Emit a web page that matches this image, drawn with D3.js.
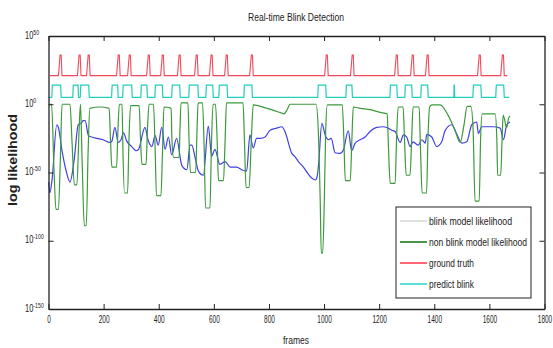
<!DOCTYPE html>
<html>
<head>
<meta charset="utf-8">
<script src="https://cdn.jsdelivr.net/npm/d3@7"></script>
<style>
  body { margin: 0; background: #fff; }
  svg text { font-family: "Liberation Sans", Arial, sans-serif; fill: #222; }
</style>
</head>
<body>
<svg id="chart" width="553" height="348"></svg>
<script>
// x ticks (frames) and y ticks (powers of ten)
const xTicks = [0, 200, 400, 600, 800, 1000, 1200, 1400, 1600, 1800];
const yTickExps = [50, 0, -50, -100, -150];

const legendNames = ['blink model likelihood', 'non blink model likelihood', 'ground truth', 'predict blink'];

// [frame, log10 likelihood]
const blinkModel = [
  [1,-57],[5,-65],[13,-55],[30,-15],[36,-17],[49,-34],[63,-48],[78,-57],[93,-41],[108,-15],
  [118,-14],[126,-12],[133,-12],[145,-23],[157,-24],[176,-25],[198,-26],[223,-28],[230,-27],[241,-17],
  [253,-28],[263,-26],[272,-21],[284,-27],[302,-31],[318,-34],[327,-33],[350,-17],[361,-26],[375,-31],
  [387,-23],[398,-30],[411,-17],[423,-33],[435,-24],[447,-37],[465,-25],[484,-45],[502,-48],[514,-30],
  [520,-30],[532,-39],[544,-49],[562,-52],[580,-16],[592,-38],[604,-33],[622,-44],[641,-42],[659,-46],
  [683,-46],[701,-48],[719,-49],[731,-22.5],[743,-32],[755,-25],[768,-25],[786,-24],[804,-19],[828,-17.5],
  [847,-16.5],[858,-20],[883,-36],[895,-38.5],[907,-42],[925,-46],[937,-49.5],[955,-54],[968,-55.5],[975,-53],
  [980,-44.5],[992,-14],[1004,-22.5],[1016,-26],[1026,-25],[1040,-35.5],[1058,-36],[1070,-33.5],[1088,-19.5],[1100,-34],
  [1113,-28.5],[1131,-26],[1149,-24],[1167,-20],[1191,-17],[1215,-16.5],[1232,-17.5],[1246,-19],[1258,-20],[1276,-28],
  [1288,-22.5],[1300,-24],[1312,-31],[1323,-27.5],[1342,-30],[1355,-26],[1367,-28.5],[1373,-22],[1391,-24],[1409,-31],
  [1427,-27.5],[1439,-19.5],[1463,-15],[1482,-22],[1500,-28.5],[1518,-27.5],[1536,-15],[1554,-13],[1560,-21.5],[1572,-16.5],
  [1614,-16.5],[1639,-17.5],[1651,-26],[1663,-15],[1675,-13]
];

const nonBlinkModel = [
  [2,0],[11,0],[20,-48],[27,-77],[36,-77],[44,-33],[49,0],[78,0],[85,-26],[94,-59],
  [103,-59],[111,-19],[116,0],[122,-41],[130,-89],[137,-89],[144,-33],[150,-3],[187,-2],[220,-3],
  [225,-26],[230,-46],[247,-46],[252,-19],[257,0],[267,0],[270,-33],[276,-65],[287,-65],[292,-26],
  [298,-1],[329,-1],[334,-26],[339,-44],[354,-44],[359,-19],[365,0],[381,0],[387,-33],[392,-67],
  [408,-67],[414,-33],[419,-2],[445,-3],[448,-26],[454,-39],[474,-39],[477,-19],[481,1],[506,1],
  [510,-26],[515,-50],[534,-50],[539,-19],[543,1],[559,1],[565,-33],[570,-76],[586,-76],[591,-33],
  [597,0],[606,0],[612,-26],[617,-56],[635,-56],[641,-26],[646,1],[706,1],[711,-26],[717,-61],
  [728,-61],[736,-26],[743,-0.5],[793,-3],[840,-6],[855,-7],[866,-4],[877,0],[971,0],[979,-19],
  [986,-70],[990,-109],[995,-109],[1001,-70],[1006,-19],[1012,-0.5],[1066,-0.5],[1072,-26],[1077,-56],[1095,-56],
  [1101,-26],[1106,-2],[1131,-3],[1167,-4],[1204,-6],[1229,-7],[1234,-33],[1240,-58],[1258,-58],[1263,-26],
  [1269,-2],[1287,-2],[1292,-26],[1298,-52],[1312,-52],[1318,-26],[1323,-2],[1345,-2],[1350,-33],[1356,-65],
  [1372,-65],[1377,-26],[1383,-2],[1392,-0.5],[1421,-0.5],[1450,-8],[1475,-19],[1494,-28],[1508,-15],[1519,-1.5],
  [1533,-1.5],[1541,-19],[1548,-71],[1563,-71],[1568,-26],[1574,-7],[1621,-7],[1627,-26],[1630,-52],[1641,-52],
  [1646,-26],[1650,-8],[1663,-17],[1670,-10],[1675,-8.5]
];

const groundTruth = [
  [5,21],[36,21],[42,36],[46,36],[49,21],[105,21],[111,36],[115,36],[118,21],[138,21],
  [144,36],[148,36],[151,21],[247,21],[253,36],[257,36],[260,21],[287,21],[293,36],[297,36],
  [300,21],[356,21],[362,36],[366,36],[369,21],[407,21],[413,36],[417,36],[420,21],[468,21],
  [474,36],[478,36],[481,21],[530,21],[536,36],[540,36],[543,21],[584,21],[590,36],[594,36],
  [597,21],[639,21],[645,36],[649,36],[652,21],[730,21],[736,36],[740,36],[743,21],[1002,21],
  [1008,36],[1012,36],[1015,21],[1096,21],[1102,36],[1106,36],[1109,21],[1256,21],[1262,36],[1266,36],
  [1269,21],[1314,21],[1320,36],[1324,36],[1327,21],[1368,21],[1374,36],[1378,36],[1381,21],[1557,21],
  [1563,36],[1567,36],[1570,21],[1641,21],[1647,36],[1651,36],[1654,21],[1665,21]
];

const predictBlink = [
  [0,5],[12,5],[14,14],[44,14],[46,5],[88,5],[90,14],[107,14],[109,5],[115,5],
  [117,14],[146,14],[148,5],[229,5],[231,14],[251,14],[253,5],[269,5],[271,14],[302,14],
  [304,5],[335,5],[337,14],[357,14],[359,5],[386,5],[388,14],[413,14],[415,5],[447,5],
  [449,14],[476,14],[478,5],[509,5],[511,14],[542,14],[544,5],[571,5],[573,14],[596,14],
  [598,5],[618,5],[620,14],[648,14],[650,5],[709,5],[711,14],[738,14],[740,5],[977,5],
  [979,14],[1006,14],[1008,5],[1079,5],[1081,14],[1101,14],[1103,5],[1239,5],[1241,14],[1264,14],
  [1266,5],[1293,5],[1295,14],[1318,14],[1320,5],[1351,5],[1353,14],[1376,14],[1378,5],[1471,5],
  [1472,14],[1473,14],[1474,5],[1540,5],[1542,14],[1569,14],[1571,5],[1623,5],[1625,14],[1652,14],
  [1654,5],[1672,5]
];

const margin = {top: 36, right: 8.5, bottom: 39, left: 48.5},
  width = 553 - margin.left - margin.right,
  height = 348 - margin.top - margin.bottom;

const svg = d3.select('#chart');
const g = svg.append('g')
  .attr('transform', `translate(${margin.left},${margin.top})`);

const x = d3.scaleLinear().domain([0, 1800]).range([0, width]);
const y = d3.scaleLog().domain([1e-150, 1e50]).range([height, 0]);

const line = d3.line()
  .x(d => x(d[0]))
  .y(d => y(Math.pow(10, d[1])));
const smooth = d3.line()
  .x(d => x(d[0]))
  .y(d => y(Math.pow(10, d[1])))
  .curve(d3.curveMonotoneX);

// series
g.append('path').datum(blinkModel)
  .attr('d', smooth).attr('fill', 'none')
  .attr('stroke', '#4040e6').attr('stroke-width', 1.2);
g.append('path').datum(nonBlinkModel)
  .attr('d', smooth).attr('fill', 'none')
  .attr('stroke', '#3c9a3c').attr('stroke-width', 1.2);
g.append('path').datum(groundTruth)
  .attr('d', line).attr('fill', 'none')
  .attr('stroke', '#f5485a').attr('stroke-width', 1.1);
g.append('path').datum(predictBlink)
  .attr('d', line).attr('fill', 'none')
  .attr('stroke', '#22cdbb').attr('stroke-width', 1.2);

// axes, matlab style box with inward ticks
const xAxis = d3.axisBottom(x).tickValues(xTicks)
  .tickSizeInner(-5).tickSizeOuter(0).tickPadding(7)
  .tickFormat(d3.format('d'));
const gx = g.append('g')
  .attr('transform', `translate(0,${height})`)
  .call(xAxis);
// narrow digits like the original
gx.selectAll('text')
  .style('font-size', '10px')
  .attr('textLength', d => String(d).length * 3.6)
  .attr('lengthAdjust', 'spacingAndGlyphs');

g.append('g')
  .call(d3.axisTop(x).tickValues(xTicks).tickSizeInner(-5).tickSizeOuter(0).tickFormat(''));

const yVals = yTickExps.map(e => Math.pow(10, e));
g.append('g')
  .call(d3.axisLeft(y).tickValues(yVals).tickSizeInner(-5).tickSizeOuter(0).tickFormat(''));
g.append('g')
  .attr('transform', `translate(${width},0)`)
  .call(d3.axisRight(y).tickValues(yVals).tickSizeInner(-5).tickSizeOuter(0).tickFormat(''));

g.selectAll('.domain').attr('stroke', '#222').attr('stroke-width', 1.3);
g.selectAll('.tick line').attr('stroke', '#222');

// y tick labels 10^n
const ylab = g.append('g').selectAll('text')
  .data(yTickExps)
  .enter().append('text')
  .attr('transform', d => `translate(-23.5,${y(Math.pow(10, d)) - 1}) scale(0.75,1)`)
  .attr('dy', '0.35em')
  .style('font-size', '10px');
ylab.append('tspan').text('10');
ylab.append('tspan')
  .attr('dy', '-0.55em')
  .style('font-size', '7px')
  .text(d => d < 0 ? '-' + Math.abs(d) : String(d));

// titles
svg.append('text')
  .attr('x', 296).attr('y', 21)
  .attr('text-anchor', 'middle')
  .style('font-size', '10.5px')
  .attr('textLength', 96).attr('lengthAdjust', 'spacingAndGlyphs')
  .text('Real-time Blink Detection');

svg.append('text')
  .attr('x', 296).attr('y', 344)
  .attr('text-anchor', 'middle')
  .style('font-size', '10.5px')
  .attr('textLength', 26).attr('lengthAdjust', 'spacingAndGlyphs')
  .text('frames');

svg.append('text')
  .attr('transform', 'rotate(-90)')
  .attr('x', -160).attr('y', 17)
  .attr('text-anchor', 'middle')
  .style('font-size', '12px')
  .style('font-weight', 'bold')
  .attr('textLength', 92).attr('lengthAdjust', 'spacingAndGlyphs')
  .text('log likelihood');

// legend
const legendColors = ['#d8d8d8', '#1f7a1f', '#ff4050', '#30d8cc'];
const legendWidths = [83, 98, 45, 45];
const legend = svg.append('g').attr('transform', 'translate(396,207)');
legend.append('rect')
  .attr('width', 135).attr('height', 91)
  .attr('fill', '#fff').attr('stroke', '#222').attr('stroke-width', 1);
const items = legend.selectAll('.item')
  .data(legendNames)
  .enter().append('g')
  .attr('class', 'item')
  .attr('transform', (d, i) => `translate(0,${14 + i * 21})`);
items.append('line')
  .attr('x1', 4).attr('x2', 31)
  .attr('stroke', (d, i) => legendColors[i])
  .attr('stroke-width', 1.6);
items.append('text')
  .attr('x', 33).attr('dy', '0.35em')
  .style('font-size', '10.5px')
  .attr('textLength', (d, i) => legendWidths[i])
  .attr('lengthAdjust', 'spacingAndGlyphs')
  .text(d => d);
</script>
</body>
</html>
